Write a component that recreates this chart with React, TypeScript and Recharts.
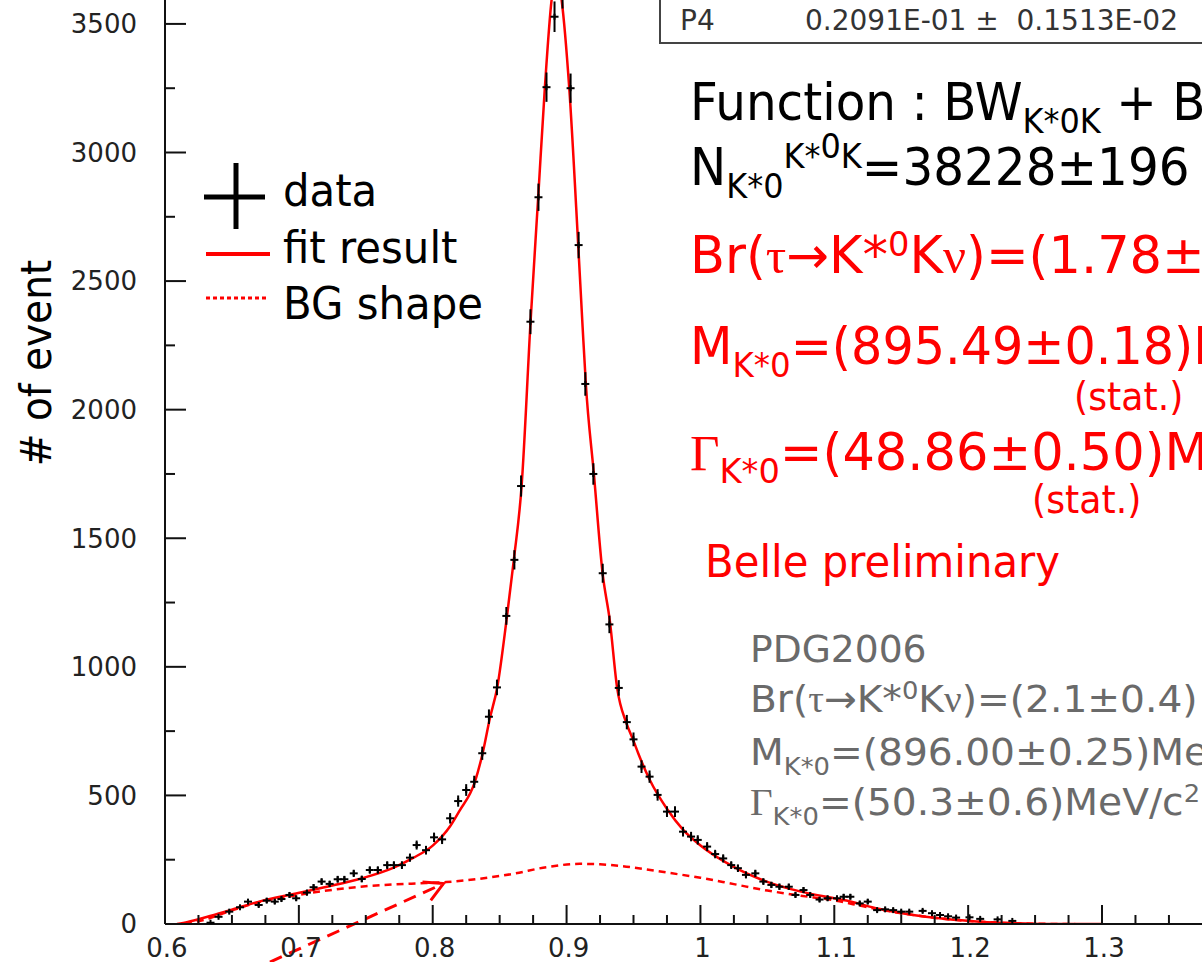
import React from 'react';
import { ComposedChart, Line, Scatter, ErrorBar, XAxis, YAxis, ReferenceLine } from 'recharts';

const W = 1202;
const H = 962;

// K*0 K invariant mass histogram, bin centre (GeV/c2) and entries
const binMass = [
  0.634, 0.640, 0.648, 0.656, 0.662, 0.670, 0.676, 0.682, 0.687, 0.693, 0.698, 0.706, 0.711, 0.717,
  0.723, 0.729, 0.734, 0.741, 0.747, 0.753, 0.759, 0.766, 0.771, 0.777, 0.783, 0.788, 0.795, 0.801,
  0.807, 0.813, 0.819, 0.825, 0.831, 0.837, 0.842, 0.848, 0.855, 0.861, 0.866, 0.873, 0.879, 0.885,
  0.891, 0.897, 0.903, 0.909, 0.914, 0.920, 0.927, 0.932, 0.939, 0.945, 0.950, 0.956, 0.962, 0.968,
  0.975, 0.981, 0.987, 0.993, 0.998, 1.005, 1.011, 1.017, 1.023, 1.028, 1.034, 1.041, 1.047, 1.053,
  1.059, 1.066, 1.071, 1.077, 1.082, 1.089, 1.095, 1.102, 1.107, 1.112, 1.119, 1.125, 1.132, 1.138,
  1.144, 1.150, 1.156, 1.166, 1.173, 1.179, 1.185, 1.191, 1.201, 1.209, 1.222, 1.233,
];
const binCount = [
  5, 28, 48, 65, 87, 74, 91, 87, 97, 113, 100, 122, 143, 165,
  156, 174, 174, 197, 175, 210, 210, 229, 229, 229, 258, 307, 287, 337,
  329, 411, 478, 521, 553, 664, 806, 920, 1198, 1416, 1703, 2342, 2826, 3254,
  3528, 3620, 3250, 2640, 2100, 1750, 1364, 1165, 918, 785, 718, 612, 573, 502,
  437, 437, 359, 340, 327, 301, 272, 255, 229, 217, 191, 197, 165, 152,
  145, 145, 113, 132, 113, 95, 100, 100, 106, 106, 80, 87, 54, 57,
  54, 48, 48, 51, 42, 35, 30, 25, 26, 20, 18, 12,
];

// fit result (BW + BG)
const fitMass = [
  0.609, 0.617, 0.629, 0.646, 0.671, 0.696, 0.721, 0.746, 0.770, 0.785, 0.800, 0.813, 0.820, 0.8315,
  0.8373, 0.8427, 0.8482, 0.8552, 0.8606, 0.8664, 0.8731, 0.8788, 0.8838, 0.8888, 0.8925, 0.8963,
  0.902, 0.9087, 0.912, 0.9144, 0.9204, 0.9269, 0.9323, 0.9378, 0.9448, 0.9498, 0.9535, 0.9622,
  0.9747, 0.9871, 0.9996, 1.0245, 1.0494, 1.0743, 1.0991, 1.109, 1.134, 1.1588, 1.1838, 1.2087,
  1.2335, 1.2585, 1.30,
];
const fitValue = [
  0, 8, 24, 50, 88, 117, 145, 176, 217, 256, 305, 380, 440, 553,
  664, 800, 920, 1185, 1416, 1703, 2343, 2826, 3254, 3593, 3700, 3593,
  3250, 2640, 2320, 2100, 1750, 1364, 1180, 917, 780, 715, 664, 560,
  450, 366, 307, 223, 165, 127, 101, 91, 58, 35, 19, 9,
  3, 0, 0,
];

// background shape (dashed)
const bgMass = [
  0.615, 0.629, 0.646, 0.671, 0.696, 0.721, 0.746, 0.771, 0.795, 0.810, 0.835, 0.860, 0.885, 0.910,
  0.925, 0.940, 0.955, 0.975, 1.000, 1.025, 1.050, 1.075, 1.100, 1.125, 1.150, 1.175, 1.200, 1.225,
  1.250, 1.280,
];
const bgValue = [
  0, 16, 46, 86, 110, 130, 145, 154, 159, 163, 176, 195, 221, 234,
  232, 226, 216, 200, 180, 155, 130, 110, 92, 65, 42, 24, 12, 5,
  1, 0,
];

const xMajorTicks = [0.6, 0.7, 0.8, 0.9, 1, 1.1, 1.2, 1.3];
const xTickLabels = ['0.6', '0.7', '0.8', '0.9', '1', '1.1', '1.2', '1.3'];
const xMinorTicks = [
  0.625, 0.65, 0.675, 0.725, 0.75, 0.775, 0.825, 0.85, 0.875, 0.925, 0.95, 0.975,
  1.025, 1.05, 1.075, 1.125, 1.15, 1.175, 1.225, 1.25, 1.275, 1.325, 1.35,
];
const yMajorTicks = [0, 500, 1000, 1500, 2000, 2500, 3000, 3500];
const yTickLabels = ['0', '500', '1000', '1500', '2000', '2500', '3000', '3500'];
const yMinorTicks = [250, 750, 1250, 1750, 2250, 2750, 3250];

// poisson errors on the entries
const histData = binMass.map((x, i) => ({ x, y: binCount[i], err: Math.sqrt(binCount[i]) }));
const fitData = fitMass.map((x, i) => ({ x, y: fitValue[i] }));
const bgData = bgMass.map((x, i) => ({ x, y: bgValue[i] }));

const RED = '#ff0000';
const GREY = '#6a6a6a';
const SANS = 'DejaVu Sans';
const SERIF = 'Liberation Serif';

const majorIndex = (list: number[], v: number) => list.findIndex((t) => Math.abs(t - v) < 1e-6);

const XTick = (props: any) => {
  const { x, y, payload } = props;
  const i = majorIndex(xMajorTicks, payload.value);
  const len = i >= 0 ? 19 : 9;
  return (
    <g>
      <line x1={x} y1={y} x2={x} y2={y - len} stroke="#111" strokeWidth={2} />
      {i >= 0 && (
        <text x={x + 2} y={y + 33} textAnchor="middle" fontFamily={SANS} fontSize={26} fill="#222">
          {xTickLabels[i]}
        </text>
      )}
    </g>
  );
};

const YTick = (props: any) => {
  const { x, y, payload } = props;
  const i = majorIndex(yMajorTicks, payload.value);
  const len = i >= 0 ? 21 : 10;
  return (
    <g>
      <line x1={x} y1={y} x2={x + len} y2={y} stroke="#111" strokeWidth={2} />
      {i >= 0 && (
        <text x={x - 28} y={y} dy="0.36em" textAnchor="end" fontFamily={SANS} fontSize={26} fill="#222">
          {yTickLabels[i]}
        </text>
      )}
    </g>
  );
};

// data marker: small cross, the vertical error comes from ErrorBar
const Cross = (props: any) => {
  const { cx, cy } = props;
  return (
    <g>
      <line x1={cx - 4} y1={cy} x2={cx + 4} y2={cy} stroke="#000" strokeWidth={2} />
      <line x1={cx} y1={cy - 3} x2={cx} y2={cy + 3} stroke="#000" strokeWidth={2} />
    </g>
  );
};

const Arrow = (props: any) => {
  const { x1, y1, x2, y2 } = props;
  const a = Math.atan2(y2 - y1, x2 - x1);
  const L = 21;
  const s = 0.5;
  const p1 = `${x2 - L * Math.cos(a - s)},${y2 - L * Math.sin(a - s)}`;
  const p2 = `${x2 - L * Math.cos(a + s)},${y2 - L * Math.sin(a + s)}`;
  return (
    <g>
      <line x1={x1} y1={y1} x2={x2} y2={y2} stroke={RED} strokeWidth={3} strokeDasharray="13 8" />
      <polyline points={`${p1} ${x2},${y2} ${p2}`} fill="none" stroke={RED} strokeWidth={3} />
    </g>
  );
};

type Part = { t: string; k?: 'sub' | 'sup' | 'sup2'; serif?: boolean };
const SHIFT = { sub: 0.26, sup: -0.34, sup2: -0.52 };

const Rich = ({ x, y, size, color, parts, squeeze = 0.93 }: { x: number; y: number; size: number; color: string; parts: Part[]; squeeze?: number }) => {
  let prev = 0;
  return (
    <g transform={`translate(${x},${y}) scale(${squeeze},1)`}>
      <text x={0} y={0} fill={color} fontSize={size} fontFamily={SANS} style={{ whiteSpace: 'pre' }}>
        {parts.map((p, i) => {
          const off = p.k ? SHIFT[p.k] * size : 0;
          const dy = off - prev;
          prev = off;
          return (
            <tspan key={i} dy={dy} fontSize={p.k ? size * 0.66 : size} fontFamily={p.serif ? SERIF : SANS}>
              {p.t}
            </tspan>
          );
        })}
      </text>
    </g>
  );
};

const YLabel = (props: any) => {
  const { viewBox } = props;
  const x = viewBox.x + 51;
  const y = viewBox.y + 363;
  return (
    <g transform={`translate(${x},${y}) rotate(-90) scale(0.93,1)`}>
      <text x={0} y={0} textAnchor="middle" fontFamily={SANS} fontSize={42} fill="#000">
        # of event
      </text>
    </g>
  );
};

export default function App() {
  return (
    <div style={{ position: 'absolute', left: 0, top: 0, width: W, height: H, overflow: 'hidden', background: '#fff' }}>
      <ComposedChart width={W} height={H} margin={{ top: 0, right: 0, bottom: 0, left: 0 }}>
        <XAxis
          type="number"
          dataKey="x"
          domain={[0.6, 1.3747]}
          allowDataOverflow
          ticks={[...xMajorTicks, ...xMinorTicks]}
          interval={0}
          tick={<XTick />}
          tickLine={false}
          tickSize={0}
          tickMargin={0}
          axisLine={{ stroke: '#111', strokeWidth: 2 }}
          height={38}
        />
        <YAxis
          type="number"
          dataKey="y"
          domain={[0, 3593]}
          allowDataOverflow
          ticks={[...yMajorTicks, ...yMinorTicks]}
          interval={0}
          tick={<YTick />}
          tickLine={false}
          tickSize={0}
          tickMargin={0}
          axisLine={{ stroke: '#111', strokeWidth: 2 }}
          width={165}
          label={<YLabel />}
        />
        <Line data={bgData} dataKey="y" type="monotone" stroke={RED} strokeWidth={2.5} strokeDasharray="7 5" dot={false} isAnimationActive={false} />
        <Line data={fitData} dataKey="y" type="monotone" stroke={RED} strokeWidth={2.5} dot={false} isAnimationActive={false} />
        <Scatter data={histData} dataKey="y" shape={<Cross />} isAnimationActive={false}>
          <ErrorBar dataKey="err" direction="y" width={0} stroke="#000" strokeWidth={2} />
        </Scatter>
        <ReferenceLine
          segment={[{ x: 0.6784, y: -148 }, { x: 0.808, y: 157 }]}
          ifOverflow="visible"
          shape={Arrow}
        />
      </ComposedChart>

      <svg width={W} height={H} style={{ position: 'absolute', left: 0, top: 0, pointerEvents: 'none' }}>
        {/* fit parameter box, top cut off */}
        <rect x={660} y={-30} width={620} height={73} fill="none" stroke="#444" strokeWidth={2} />
        <text x={680} y={30} fontFamily={SANS} fontSize={28} fill="#333">P4</text>
        <text x={805} y={30} fontFamily={SANS} fontSize={28} fill="#333" style={{ whiteSpace: 'pre' }}>
          0.2091E-01 ±  0.1513E-02
        </text>

        {/* legend */}
        <line x1={204} y1={197} x2={265} y2={197} stroke="#000" strokeWidth={5} />
        <line x1={236} y1={163} x2={236} y2={229} stroke="#000" strokeWidth={5} />
        <line x1={206} y1={254} x2={270} y2={254} stroke={RED} strokeWidth={4} />
        <line x1={206} y1={298} x2={268} y2={298} stroke={RED} strokeWidth={3} strokeDasharray="4 3" />
        <Rich x={283} y={206} size={45} color="#000" parts={[{ t: 'data' }]} />
        <Rich x={283} y={263} size={45} color="#000" parts={[{ t: 'fit result' }]} />
        <Rich x={283} y={319} size={45} color="#000" parts={[{ t: 'BG shape' }]} />

        {/* fit description */}
        <Rich x={690} y={120} size={51} squeeze={0.95} color="#000" parts={[{ t: 'Function : BW' }, { t: 'K*0K', k: 'sub' }, { t: ' + BG' }]} />
        <Rich
          x={690}
          y={185}
          size={51}
          squeeze={0.95}
          color="#000"
          parts={[{ t: 'N' }, { t: 'K*0', k: 'sub' }, { t: 'K*', k: 'sup' }, { t: '0', k: 'sup2' }, { t: 'K', k: 'sup' }, { t: '=38228±196' }]}
        />
        <Rich
          x={690}
          y={273}
          size={51}
          squeeze={1}
          color={RED}
          parts={[{ t: 'Br(' }, { t: 'τ', serif: true }, { t: '→K*' }, { t: '0', k: 'sup' }, { t: 'K' }, { t: 'ν', serif: true }, { t: ')=(1.78±' }]}
        />
        <Rich x={690} y={364} size={51} squeeze={0.965} color={RED} parts={[{ t: 'M' }, { t: 'K*0', k: 'sub' }, { t: '=(895.49±0.18)MeV/c' }]} />
        <Rich x={1074} y={410} size={39} color={RED} parts={[{ t: '(stat.)' }]} />
        <Rich x={690} y={470} size={51} squeeze={1} color={RED} parts={[{ t: 'Γ', serif: true }, { t: 'K*0', k: 'sub' }, { t: '=(48.86±0.50)MeV/c' }]} />
        <Rich x={1032} y={513} size={39} color={RED} parts={[{ t: '(stat.)' }]} />
        <Rich x={705} y={577} size={45} color={RED} parts={[{ t: 'Belle preliminary' }]} />

        {/* PDG values */}
        <Rich x={750} y={662} size={38} squeeze={0.99} color={GREY} parts={[{ t: 'PDG2006' }]} />
        <Rich
          x={750}
          y={712}
          size={38}
          squeeze={1.03}
          color={GREY}
          parts={[{ t: 'Br(' }, { t: 'τ', serif: true }, { t: '→K*' }, { t: '0', k: 'sup' }, { t: 'K' }, { t: 'ν', serif: true }, { t: ')=(2.1±0.4)' }]}
        />
        <Rich x={750} y={765} size={38} squeeze={1.03} color={GREY} parts={[{ t: 'M' }, { t: 'K*0', k: 'sub' }, { t: '=(896.00±0.25)MeV/c' }]} />
        <Rich x={750} y={815} size={38} squeeze={1.03} color={GREY} parts={[{ t: 'Γ', serif: true }, { t: 'K*0', k: 'sub' }, { t: '=(50.3±0.6)MeV/c' }, { t: '2', k: 'sup' }]} />
      </svg>
    </div>
  );
}
